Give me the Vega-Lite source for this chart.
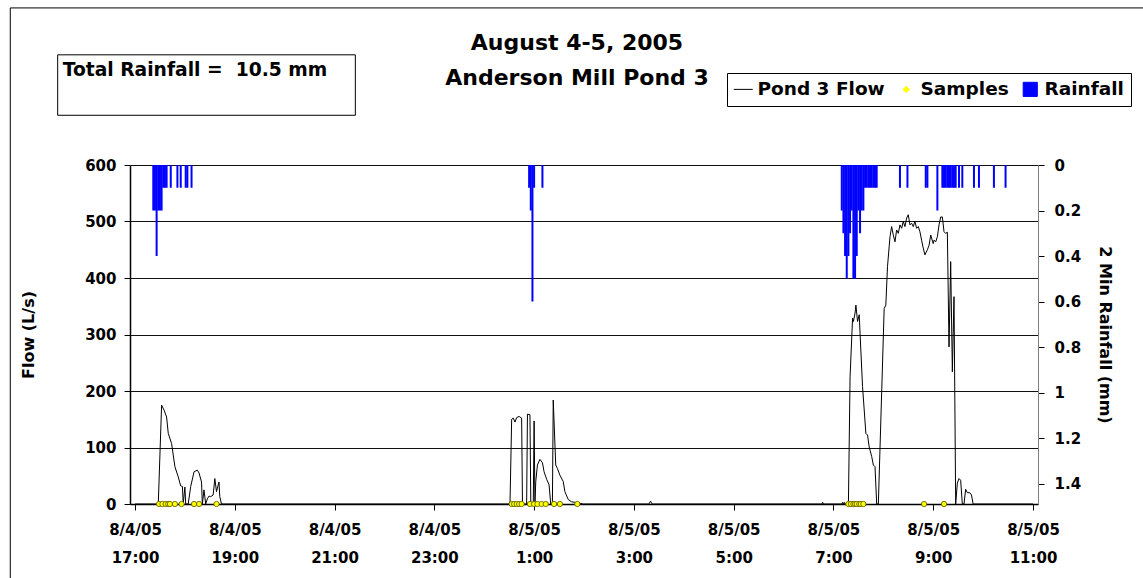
{
  "$schema": "https://vega.github.io/schema/vega-lite/v6.json",
  "width": 908,
  "height": 339,
  "autosize": "none",
  "padding": {"left": 130, "top": 165, "right": 105, "bottom": 74},
  "background": "white",
  "title": {
    "text": ["August 4-5, 2005", "Anderson Mill Pond 3"],
    "font": "DejaVu Sans",
    "fontWeight": "bold",
    "fontSize": 22,
    "lineHeight": 35,
    "color": "black",
    "anchor": "middle",
    "frame": "group",
    "dx": -7,
    "offset": -83
  },
  "config": {
    "font": "DejaVu Sans",
    "view": {"stroke": null},
    "axis": {
      "labelFont": "DejaVu Sans",
      "labelFontWeight": "bold",
      "labelFontSize": 15,
      "labelColor": "black",
      "titleFont": "DejaVu Sans",
      "titleFontWeight": "bold",
      "titleFontSize": 16,
      "titleColor": "black",
      "tickColor": "black",
      "tickSize": 6,
      "domainColor": "black",
      "gridColor": "#111111",
      "gridOpacity": 1
    }
  },
  "datasets": {
    "flow": [
      {"time": "2005-08-04T17:00", "flow": 0},
      {"time": "2005-08-04T17:28", "flow": 0},
      {"time": "2005-08-04T17:32", "flow": 175},
      {"time": "2005-08-04T17:35", "flow": 166},
      {"time": "2005-08-04T17:38", "flow": 154},
      {"time": "2005-08-04T17:40", "flow": 125},
      {"time": "2005-08-04T17:44", "flow": 107},
      {"time": "2005-08-04T17:48", "flow": 66},
      {"time": "2005-08-04T17:52", "flow": 48},
      {"time": "2005-08-04T17:55", "flow": 32},
      {"time": "2005-08-04T17:57", "flow": 31},
      {"time": "2005-08-04T17:58", "flow": 0},
      {"time": "2005-08-04T18:00", "flow": 30},
      {"time": "2005-08-04T18:01", "flow": 0},
      {"time": "2005-08-04T18:04", "flow": 0},
      {"time": "2005-08-04T18:07", "flow": 31},
      {"time": "2005-08-04T18:11", "flow": 57},
      {"time": "2005-08-04T18:15", "flow": 60},
      {"time": "2005-08-04T18:17", "flow": 55},
      {"time": "2005-08-04T18:20", "flow": 39},
      {"time": "2005-08-04T18:21", "flow": 0},
      {"time": "2005-08-04T18:23", "flow": 25},
      {"time": "2005-08-04T18:25", "flow": 0},
      {"time": "2005-08-04T18:27", "flow": 9},
      {"time": "2005-08-04T18:29", "flow": 14},
      {"time": "2005-08-04T18:31", "flow": 13},
      {"time": "2005-08-04T18:34", "flow": 16},
      {"time": "2005-08-04T18:36", "flow": 45},
      {"time": "2005-08-04T18:38", "flow": 22},
      {"time": "2005-08-04T18:41", "flow": 39},
      {"time": "2005-08-04T18:42", "flow": 13},
      {"time": "2005-08-04T18:44", "flow": 0},
      {"time": "2005-08-05T00:31", "flow": 0},
      {"time": "2005-08-05T00:33", "flow": 150},
      {"time": "2005-08-05T00:35", "flow": 152},
      {"time": "2005-08-05T00:37", "flow": 145},
      {"time": "2005-08-05T00:39", "flow": 153},
      {"time": "2005-08-05T00:42", "flow": 155},
      {"time": "2005-08-05T00:45", "flow": 152},
      {"time": "2005-08-05T00:46", "flow": 0},
      {"time": "2005-08-05T00:51", "flow": 0},
      {"time": "2005-08-05T00:52", "flow": 159},
      {"time": "2005-08-05T00:55", "flow": 158},
      {"time": "2005-08-05T00:56", "flow": 0},
      {"time": "2005-08-05T00:59", "flow": 0},
      {"time": "2005-08-05T01:00", "flow": 147},
      {"time": "2005-08-05T01:01", "flow": 0},
      {"time": "2005-08-05T01:02", "flow": 40},
      {"time": "2005-08-05T01:04", "flow": 69},
      {"time": "2005-08-05T01:07", "flow": 79},
      {"time": "2005-08-05T01:10", "flow": 73},
      {"time": "2005-08-05T01:12", "flow": 57},
      {"time": "2005-08-05T01:15", "flow": 44},
      {"time": "2005-08-05T01:18", "flow": 34},
      {"time": "2005-08-05T01:20", "flow": 0},
      {"time": "2005-08-05T01:22", "flow": 0},
      {"time": "2005-08-05T01:23", "flow": 184},
      {"time": "2005-08-05T01:26", "flow": 69},
      {"time": "2005-08-05T01:28", "flow": 63},
      {"time": "2005-08-05T01:31", "flow": 51},
      {"time": "2005-08-05T01:35", "flow": 40},
      {"time": "2005-08-05T01:37", "flow": 22},
      {"time": "2005-08-05T01:41", "flow": 8},
      {"time": "2005-08-05T01:45", "flow": 4},
      {"time": "2005-08-05T01:53", "flow": 2},
      {"time": "2005-08-05T01:59", "flow": 0},
      {"time": "2005-08-05T03:18", "flow": 0},
      {"time": "2005-08-05T03:20", "flow": 5},
      {"time": "2005-08-05T03:22", "flow": 0},
      {"time": "2005-08-05T06:46", "flow": 0},
      {"time": "2005-08-05T06:47", "flow": 3},
      {"time": "2005-08-05T06:48", "flow": 0},
      {"time": "2005-08-05T07:10", "flow": 0},
      {"time": "2005-08-05T07:11", "flow": 3},
      {"time": "2005-08-05T07:12", "flow": 0},
      {"time": "2005-08-05T07:13", "flow": 3},
      {"time": "2005-08-05T07:14", "flow": 0},
      {"time": "2005-08-05T07:18", "flow": 0},
      {"time": "2005-08-05T07:20", "flow": 225},
      {"time": "2005-08-05T07:23", "flow": 329},
      {"time": "2005-08-05T07:24", "flow": 323},
      {"time": "2005-08-05T07:26", "flow": 338},
      {"time": "2005-08-05T07:27", "flow": 352},
      {"time": "2005-08-05T07:29", "flow": 323},
      {"time": "2005-08-05T07:31", "flow": 335},
      {"time": "2005-08-05T07:32", "flow": 302},
      {"time": "2005-08-05T07:35", "flow": 208},
      {"time": "2005-08-05T07:39", "flow": 125},
      {"time": "2005-08-05T07:41", "flow": 122},
      {"time": "2005-08-05T07:43", "flow": 101},
      {"time": "2005-08-05T07:46", "flow": 84},
      {"time": "2005-08-05T07:48", "flow": 69},
      {"time": "2005-08-05T07:50", "flow": 66},
      {"time": "2005-08-05T07:52", "flow": 0},
      {"time": "2005-08-05T07:54", "flow": 0},
      {"time": "2005-08-05T08:01", "flow": 346},
      {"time": "2005-08-05T08:03", "flow": 352},
      {"time": "2005-08-05T08:05", "flow": 420},
      {"time": "2005-08-05T08:08", "flow": 473},
      {"time": "2005-08-05T08:10", "flow": 491},
      {"time": "2005-08-05T08:12", "flow": 476},
      {"time": "2005-08-05T08:14", "flow": 464},
      {"time": "2005-08-05T08:16", "flow": 485},
      {"time": "2005-08-05T08:18", "flow": 479},
      {"time": "2005-08-05T08:20", "flow": 494},
      {"time": "2005-08-05T08:22", "flow": 488},
      {"time": "2005-08-05T08:24", "flow": 500},
      {"time": "2005-08-05T08:26", "flow": 491},
      {"time": "2005-08-05T08:28", "flow": 506},
      {"time": "2005-08-05T08:30", "flow": 512},
      {"time": "2005-08-05T08:32", "flow": 494},
      {"time": "2005-08-05T08:34", "flow": 497},
      {"time": "2005-08-05T08:36", "flow": 491},
      {"time": "2005-08-05T08:38", "flow": 500},
      {"time": "2005-08-05T08:40", "flow": 488},
      {"time": "2005-08-05T08:42", "flow": 491},
      {"time": "2005-08-05T08:44", "flow": 482},
      {"time": "2005-08-05T08:46", "flow": 467},
      {"time": "2005-08-05T08:48", "flow": 453},
      {"time": "2005-08-05T08:50", "flow": 441},
      {"time": "2005-08-05T08:53", "flow": 450},
      {"time": "2005-08-05T08:55", "flow": 458},
      {"time": "2005-08-05T08:57", "flow": 476},
      {"time": "2005-08-05T09:00", "flow": 461},
      {"time": "2005-08-05T09:01", "flow": 467},
      {"time": "2005-08-05T09:03", "flow": 464},
      {"time": "2005-08-05T09:05", "flow": 473},
      {"time": "2005-08-05T09:07", "flow": 494},
      {"time": "2005-08-05T09:09", "flow": 508},
      {"time": "2005-08-05T09:11", "flow": 508},
      {"time": "2005-08-05T09:13", "flow": 482},
      {"time": "2005-08-05T09:15", "flow": 479},
      {"time": "2005-08-05T09:17", "flow": 481},
      {"time": "2005-08-05T09:19", "flow": 278},
      {"time": "2005-08-05T09:21", "flow": 429},
      {"time": "2005-08-05T09:23", "flow": 234},
      {"time": "2005-08-05T09:25", "flow": 367},
      {"time": "2005-08-05T09:27", "flow": 0},
      {"time": "2005-08-05T09:29", "flow": 37},
      {"time": "2005-08-05T09:31", "flow": 45},
      {"time": "2005-08-05T09:33", "flow": 42},
      {"time": "2005-08-05T09:35", "flow": 0},
      {"time": "2005-08-05T09:37", "flow": 0},
      {"time": "2005-08-05T09:39", "flow": 26},
      {"time": "2005-08-05T09:41", "flow": 20},
      {"time": "2005-08-05T09:44", "flow": 20},
      {"time": "2005-08-05T09:46", "flow": 16},
      {"time": "2005-08-05T09:48", "flow": 0},
      {"time": "2005-08-05T11:00", "flow": 0}
    ],
    "rain": [
      {"time": "2005-08-04T17:22", "rain": 0.2},
      {"time": "2005-08-04T17:24", "rain": 0.2},
      {"time": "2005-08-04T17:26", "rain": 0.4},
      {"time": "2005-08-04T17:28", "rain": 0.2},
      {"time": "2005-08-04T17:30", "rain": 0.2},
      {"time": "2005-08-04T17:32", "rain": 0.2},
      {"time": "2005-08-04T17:34", "rain": 0.1},
      {"time": "2005-08-04T17:36", "rain": 0.1},
      {"time": "2005-08-04T17:38", "rain": 0.1},
      {"time": "2005-08-04T17:43", "rain": 0.1},
      {"time": "2005-08-04T17:51", "rain": 0.1},
      {"time": "2005-08-04T17:55", "rain": 0.1},
      {"time": "2005-08-04T18:01", "rain": 0.1},
      {"time": "2005-08-04T18:03", "rain": 0.1},
      {"time": "2005-08-04T18:08", "rain": 0.1},
      {"time": "2005-08-05T00:54", "rain": 0.1},
      {"time": "2005-08-05T00:56", "rain": 0.2},
      {"time": "2005-08-05T00:58", "rain": 0.6},
      {"time": "2005-08-05T01:00", "rain": 0.1},
      {"time": "2005-08-05T01:10", "rain": 0.1},
      {"time": "2005-08-05T07:10", "rain": 0.2},
      {"time": "2005-08-05T07:12", "rain": 0.3},
      {"time": "2005-08-05T07:14", "rain": 0.4},
      {"time": "2005-08-05T07:16", "rain": 0.5},
      {"time": "2005-08-05T07:18", "rain": 0.4},
      {"time": "2005-08-05T07:20", "rain": 0.3},
      {"time": "2005-08-05T07:22", "rain": 0.2},
      {"time": "2005-08-05T07:24", "rain": 0.5},
      {"time": "2005-08-05T07:26", "rain": 0.5},
      {"time": "2005-08-05T07:28", "rain": 0.4},
      {"time": "2005-08-05T07:30", "rain": 0.2},
      {"time": "2005-08-05T07:32", "rain": 0.3},
      {"time": "2005-08-05T07:34", "rain": 0.2},
      {"time": "2005-08-05T07:36", "rain": 0.2},
      {"time": "2005-08-05T07:38", "rain": 0.1},
      {"time": "2005-08-05T07:40", "rain": 0.1},
      {"time": "2005-08-05T07:42", "rain": 0.1},
      {"time": "2005-08-05T07:44", "rain": 0.1},
      {"time": "2005-08-05T07:46", "rain": 0.1},
      {"time": "2005-08-05T07:48", "rain": 0.1},
      {"time": "2005-08-05T07:50", "rain": 0.1},
      {"time": "2005-08-05T07:52", "rain": 0.1},
      {"time": "2005-08-05T08:20", "rain": 0.1},
      {"time": "2005-08-05T08:29", "rain": 0.1},
      {"time": "2005-08-05T08:51", "rain": 0.1},
      {"time": "2005-08-05T08:53", "rain": 0.1},
      {"time": "2005-08-05T09:05", "rain": 0.2},
      {"time": "2005-08-05T09:11", "rain": 0.1},
      {"time": "2005-08-05T09:13", "rain": 0.1},
      {"time": "2005-08-05T09:15", "rain": 0.1},
      {"time": "2005-08-05T09:17", "rain": 0.1},
      {"time": "2005-08-05T09:19", "rain": 0.1},
      {"time": "2005-08-05T09:21", "rain": 0.1},
      {"time": "2005-08-05T09:23", "rain": 0.1},
      {"time": "2005-08-05T09:25", "rain": 0.1},
      {"time": "2005-08-05T09:27", "rain": 0.1},
      {"time": "2005-08-05T09:31", "rain": 0.1},
      {"time": "2005-08-05T09:35", "rain": 0.1},
      {"time": "2005-08-05T09:49", "rain": 0.1},
      {"time": "2005-08-05T09:55", "rain": 0.1},
      {"time": "2005-08-05T10:13", "rain": 0.1},
      {"time": "2005-08-05T10:27", "rain": 0.1}
    ],
    "samples": [
      {"time": "2005-08-04T17:29", "flow": 0},
      {"time": "2005-08-04T17:33", "flow": 0},
      {"time": "2005-08-04T17:37", "flow": 0},
      {"time": "2005-08-04T17:40", "flow": 0},
      {"time": "2005-08-04T17:42", "flow": 0},
      {"time": "2005-08-04T17:48", "flow": 0},
      {"time": "2005-08-04T17:56", "flow": 0},
      {"time": "2005-08-04T18:11", "flow": 0},
      {"time": "2005-08-04T18:17", "flow": 0},
      {"time": "2005-08-04T18:38", "flow": 0},
      {"time": "2005-08-05T00:33", "flow": 0},
      {"time": "2005-08-05T00:36", "flow": 0},
      {"time": "2005-08-05T00:39", "flow": 0},
      {"time": "2005-08-05T00:42", "flow": 0},
      {"time": "2005-08-05T00:45", "flow": 0},
      {"time": "2005-08-05T00:55", "flow": 0},
      {"time": "2005-08-05T01:00", "flow": 0},
      {"time": "2005-08-05T01:04", "flow": 0},
      {"time": "2005-08-05T01:09", "flow": 0},
      {"time": "2005-08-05T01:14", "flow": 0},
      {"time": "2005-08-05T01:24", "flow": 0},
      {"time": "2005-08-05T01:31", "flow": 0},
      {"time": "2005-08-05T01:52", "flow": 0},
      {"time": "2005-08-05T07:18", "flow": 0},
      {"time": "2005-08-05T07:21", "flow": 0},
      {"time": "2005-08-05T07:24", "flow": 0},
      {"time": "2005-08-05T07:26", "flow": 0},
      {"time": "2005-08-05T07:28", "flow": 0},
      {"time": "2005-08-05T07:31", "flow": 0},
      {"time": "2005-08-05T07:33", "flow": 0},
      {"time": "2005-08-05T07:36", "flow": 0},
      {"time": "2005-08-05T08:49", "flow": 0},
      {"time": "2005-08-05T09:13", "flow": 0}
    ],
    "note": [
      {"label": "Total Rainfall = \u00a010.5 mm"}
    ]
  },
  "resolve": {"scale": {"y": "independent"}},
  "layer": [
    {
      "data": {"name": "rain"},
      "mark": {"type": "bar", "size": 2},
      "encoding": {
        "x": {
          "field": "time",
          "type": "temporal",
          "scale": {
            "domain": [
              {"year": 2005, "month": 8, "date": 4, "hours": 17},
              {"year": 2005, "month": 8, "date": 5, "hours": 11}
            ],
            "nice": false
          },
          "axis": {
            "title": null,
            "values": [
              {"year": 2005, "month": 8, "date": 4, "hours": 17},
              {"year": 2005, "month": 8, "date": 4, "hours": 19},
              {"year": 2005, "month": 8, "date": 4, "hours": 21},
              {"year": 2005, "month": 8, "date": 4, "hours": 23},
              {"year": 2005, "month": 8, "date": 5, "hours": 1},
              {"year": 2005, "month": 8, "date": 5, "hours": 3},
              {"year": 2005, "month": 8, "date": 5, "hours": 5},
              {"year": 2005, "month": 8, "date": 5, "hours": 7},
              {"year": 2005, "month": 8, "date": 5, "hours": 9},
              {"year": 2005, "month": 8, "date": 5, "hours": 11}
            ],
            "labelExpr": "[timeFormat(datum.value, '%-m/%-d/%y'), timeFormat(datum.value, '%-H:%M')]",
            "labelLineHeight": 28,
            "labelPadding": 12,
            "labelFlush": false,
            "labelOverlap": false,
            "labelBound": false,
            "grid": false,
            "domainWidth": 1.5
          }
        },
        "y": {
          "field": "rain",
          "type": "quantitative",
          "scale": {"domain": [0, 1.49], "reverse": true, "nice": false, "zero": true},
          "axis": {
            "orient": "right",
            "title": "2 Min Rainfall (mm)",
            "values": [0, 0.2, 0.4, 0.6, 0.8, 1, 1.2, 1.4],
            "format": "~g",
            "grid": false,
            "labelPadding": 10,
            "titlePadding": 16,
            "domainColor": "#808080"
          }
        },
        "color": {
          "datum": "Rainfall",
          "scale": {
            "domain": ["Pond 3 Flow", "Samples", "Rainfall"],
            "range": ["black", "#FFFF00", "#0000FF"]
          },
          "legend": {
            "title": null,
            "orient": "none",
            "direction": "horizontal",
            "legendX": 597,
            "legendY": -92,
            "labelFont": "DejaVu Sans",
            "labelFontWeight": "bold",
            "labelFontSize": 18.5,
            "labelColor": "black",
            "strokeColor": "black",
            "fillColor": "white",
            "padding": 7,
            "cornerRadius": 0,
            "columnPadding": 12,
            "labelOffset": 5,
            "symbolSize": 250,
            "encode": {
              "symbols": {
                "update": {
                  "shape": {"signal": "datum.value === 'Pond 3 Flow' ? 'stroke' : datum.value === 'Samples' ? 'diamond' : 'square'"},
                  "size": {"signal": "datum.value === 'Pond 3 Flow' ? 361 : datum.value === 'Samples' ? 40 : 200"},
                  "fill": {"signal": "datum.value === 'Pond 3 Flow' ? 'transparent' : datum.value === 'Samples' ? '#FFFF00' : '#0000FF'"},
                  "stroke": {"signal": "datum.value === 'Pond 3 Flow' ? 'black' : datum.value === 'Samples' ? '#555500' : 'transparent'"},
                  "strokeWidth": {"value": 1},
                  "opacity": {"value": 1}
                }
              }
            }
          }
        }
      }
    },
    {
      "layer": [
        {
          "data": {"name": "flow"},
          "mark": {"type": "line", "strokeWidth": 1, "interpolate": "linear"},
          "encoding": {
            "x": {"field": "time", "type": "temporal"},
            "y": {
              "field": "flow",
              "type": "quantitative",
              "scale": {"domain": [0, 600], "nice": false},
              "axis": {
                "orient": "left",
                "title": "Flow (L/s)",
                "values": [0, 100, 200, 300, 400, 500, 600],
                "grid": true,
                "labelPadding": 8,
                "titlePadding": 48,
                "domainWidth": 1.5
              }
            },
            "color": {"datum": "Pond 3 Flow"}
          }
        },
        {
          "data": {"name": "samples"},
          "mark": {"type": "point", "filled": true, "shape": "circle", "size": 28, "stroke": "#555500", "strokeWidth": 0.8, "opacity": 1},
          "encoding": {
            "x": {"field": "time", "type": "temporal"},
            "y": {"field": "flow", "type": "quantitative"},
            "color": {"datum": "Samples"}
          }
        },
        {
          "data": {"name": "note"},
          "mark": {"type": "rect", "fill": "white", "stroke": "black", "strokeWidth": 1},
          "encoding": {
            "x": {"datum": {"year": 2005, "month": 8, "date": 4, "hours": 15, "minutes": 27}},
            "x2": {"datum": {"year": 2005, "month": 8, "date": 4, "hours": 21, "minutes": 25}},
            "y": {"datum": 795},
            "y2": {"datum": 688}
          }
        },
        {
          "data": {"name": "note"},
          "mark": {"type": "text", "align": "left", "baseline": "middle", "font": "DejaVu Sans", "fontWeight": "bold", "fontSize": 18.7, "color": "black"},
          "encoding": {
            "x": {"datum": {"year": 2005, "month": 8, "date": 4, "hours": 15, "minutes": 33}},
            "y": {"datum": 768},
            "text": {"field": "label"}
          }
        },
        {
          "data": {"name": "note"},
          "mark": {"type": "rect", "fill": "transparent", "stroke": "black", "strokeWidth": 1},
          "encoding": {
            "x": {"datum": {"year": 2005, "month": 8, "date": 4, "hours": 14, "minutes": 30}},
            "x2": {"datum": {"year": 2005, "month": 8, "date": 5, "hours": 13, "minutes": 30}},
            "y": {"datum": 878},
            "y2": {"datum": -200}
          }
        }
      ]
    }
  ]
}
